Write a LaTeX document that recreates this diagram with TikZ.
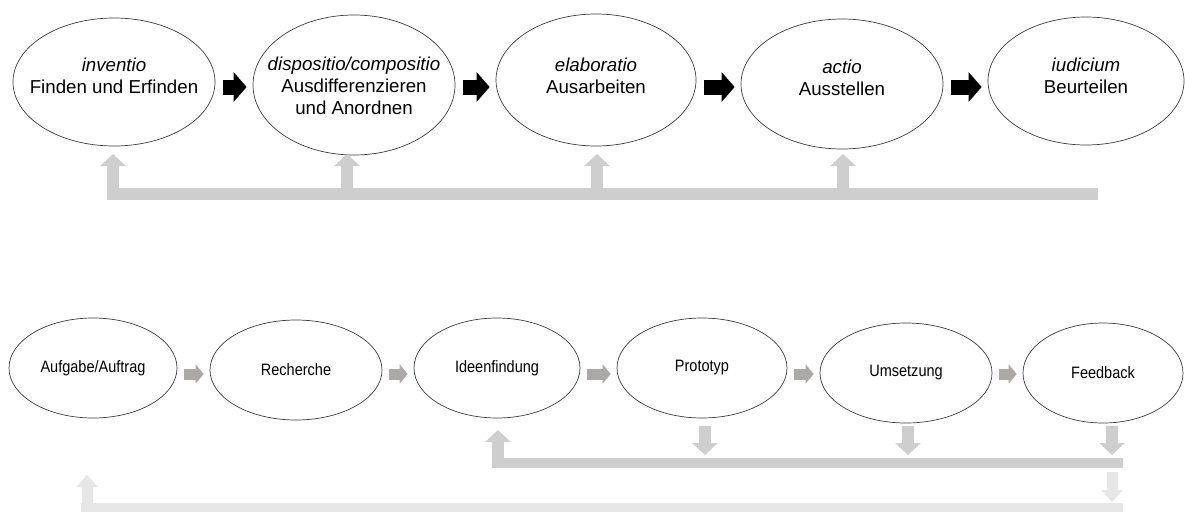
\documentclass[tikz,border=0pt]{standalone}
\usepackage{fontspec}
\usepackage{graphicx}
\setmainfont{Liberation Sans}
\usetikzlibrary{shapes.geometric,arrows.meta}

\definecolor{rimGray}{RGB}{60,60,60}
\definecolor{stepGray}{RGB}{172,168,168}
\definecolor{barGray}{RGB}{206,206,206}
\definecolor{paleGray}{RGB}{230,230,230}

\tikzset{
  phase/.style={ellipse, draw=rimGray, line width=0.7pt, inner sep=0pt},
  bigtext/.style={font=\fontsize{18.7}{22}\selectfont, align=center},
  smalltext/.style={font=\fontsize{16.5}{19}\selectfont, align=center},
  blockarrow/.style={draw=black, line width=15pt, shorten <=8pt, shorten >=6pt,
    -{Triangle[length=13pt,width=29pt]}},
  steparrow/.style={draw=stepGray, line width=11pt, shorten <=7pt, shorten >=6pt,
    -{Triangle[length=8pt,width=19pt]}},
  backarrow/.style={line width=12pt, -{Triangle[length=12pt,width=25pt]}},
  thinback/.style={line width=11pt, -{Triangle[length=12pt,width=21pt]}}
}

\begin{document}
\begin{tikzpicture}[x=1pt,y=-1pt]
  \useasboundingbox (0,0) rectangle (1185,512);
  % rows and levels of the feedback lines
  \coordinate (toprow) at (0,87);
  \coordinate (botrow) at (0,374);
  \coordinate (fbtop) at (0,194);
  \coordinate (fbtip) at (0,154);
  \coordinate (fbend) at (1098,194);
  \coordinate (dntop) at (0,426);
  \coordinate (dntip) at (0,455);
  \coordinate (uptip) at (0,430);
  \coordinate (loopA) at (0,462.5);
  \coordinate (loopAend) at (1123,462.5);
  \coordinate (paletop) at (0,472);
  \coordinate (paletip) at (0,502);
  \coordinate (loopB) at (0,507.5);
  \coordinate (loopBend) at (1123,507.5);
  \coordinate (longtip) at (0,475);

  % Upper row: name/x/y/rx/ry/shift/latin term/german term
  \foreach \name/\x/\y/\rx/\ry/\dy/\latin/\german in {
      inv/114/82/101/64/6/inventio/{Finden und Erfinden},
      dis/354/85/101/70/-1/dispositio\slash compositio/{Ausdifferenzieren\\und Anordnen},
      ela/596/80/100/66/4/elaboratio/{Ausarbeiten},
      act/842/84/101/65/6/actio/{Ausstellen},
      iud/1086/81/98/64/5/iudicium/{Beurteilen}}{
    \node[phase, minimum width=2*\rx pt, minimum height=2*\ry pt,
      label={[bigtext, yshift=\dy pt]center:\textit{\latin}\\\german}]
      (\name) at (\x,\y) {};
  }
  \foreach \a/\b in {inv/dis, dis/ela, ela/act, act/iud}
    \draw[blockarrow] (\a.east |- toprow) -- (\b.west |- toprow);

  % feedback into every step
  \draw[barGray, line width=12pt] ([xshift=-7pt]inv.south |- fbtop) -- (fbend);
  \foreach \n/\dx in {inv/-1, dis/-7, ela/1, act/1}
    \draw[backarrow, barGray] ([xshift=\dx pt]\n.south |- fbtop) -- ([xshift=\dx pt]\n.south |- fbtip);

  % Lower row: name/x/y/rx/ry/text
  \foreach \name/\x/\y/\rx/\ry/\label in {
      auf/93/368/84/50/Aufgabe\slash Auftrag,
      rec/296/370/86/50/Recherche,
      ide/497/368/83/50/Ideenfindung,
      pro/702/368/85/50/Prototyp,
      ums/906/373/86/50/Umsetzung,
      fee/1103/373/80/50/Feedback}{
    \node[phase, minimum width=2*\rx pt, minimum height=2*\ry pt,
      label={[smalltext]center:\scalebox{0.88}[1]{\label}}]
      (\name) at (\x,\y) {};
  }
  \foreach \a/\b in {auf/rec, rec/ide, ide/pro, pro/ums, ums/fee}
    \draw[steparrow] (\a.east |- botrow) -- (\b.west |- botrow);

  % short loop back to Ideenfindung
  \draw[barGray, line width=10pt] ([xshift=-5pt]ide.south |- loopA) -- (loopAend);
  \draw[backarrow, barGray] ([xshift=1pt]ide.south |- loopA) -- ([xshift=1pt]ide.south |- uptip);
  \foreach \n/\dx in {pro/3, ums/2, fee/9}
    \draw[backarrow, barGray] ([xshift=\dx pt]\n.south |- dntop) -- ([xshift=\dx pt]\n.south |- dntip);

  % long loop back to the task
  \draw[paleGray, line width=9pt] ([xshift=-12pt]auf.south |- loopB) -- (loopBend);
  \draw[thinback, paleGray] ([xshift=-6pt]auf.south |- loopB) -- ([xshift=-6pt]auf.south |- longtip);
  \draw[thinback, paleGray] ([xshift=9pt]fee.south |- paletop) -- ([xshift=9pt]fee.south |- paletip);
\end{tikzpicture}
\end{document}
